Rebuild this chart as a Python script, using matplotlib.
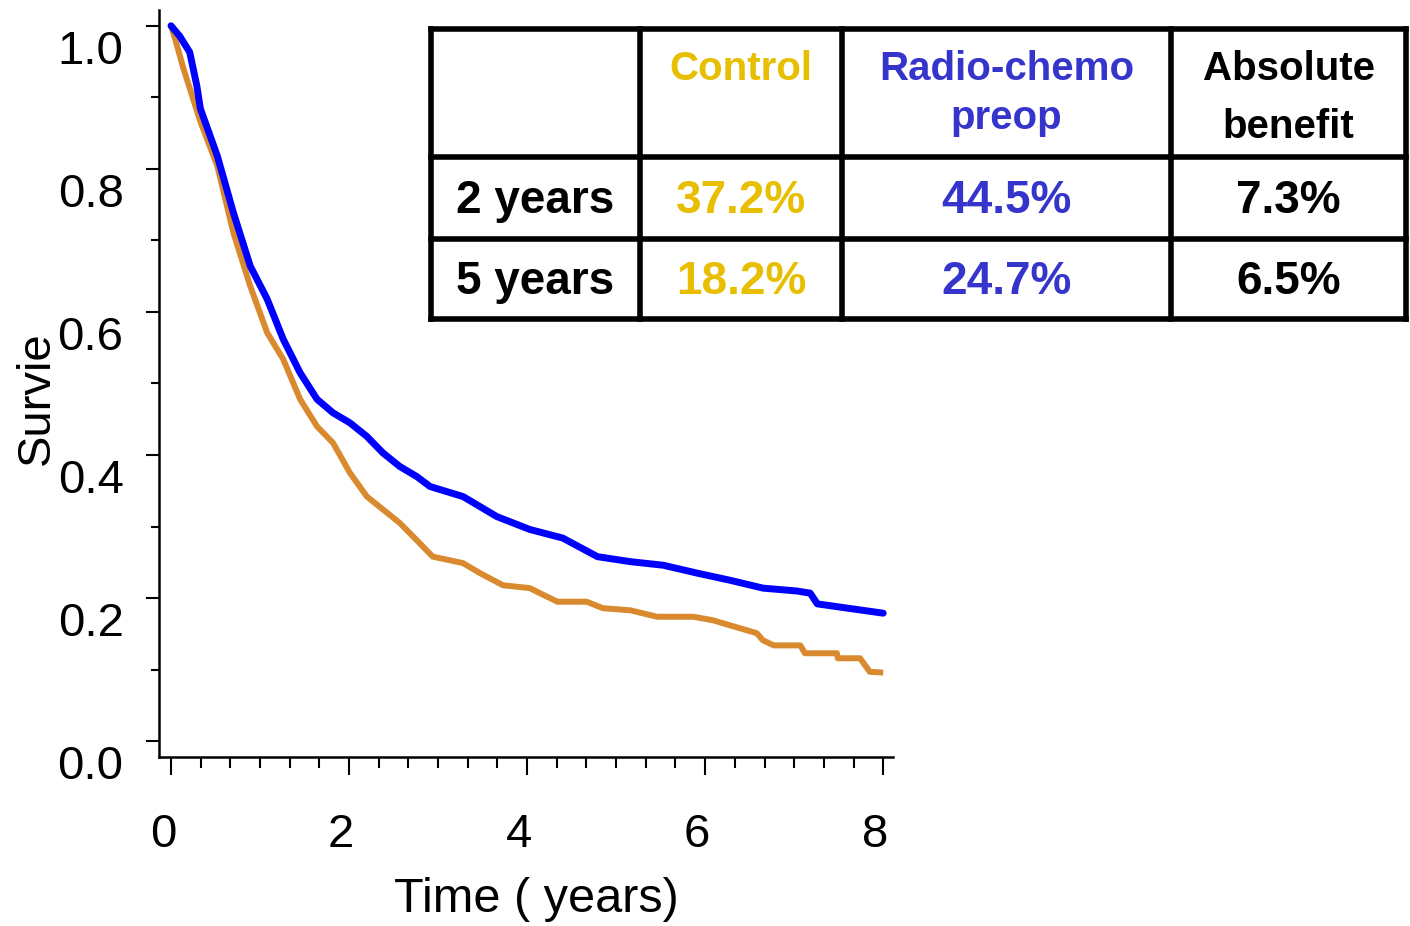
import numpy as np
import matplotlib.pyplot as plt
import matplotlib.transforms as mtrans
from matplotlib.ticker import MultipleLocator

plt.rcParams['font.family'] = ['Liberation Sans', 'DejaVu Sans']

# Survival curves
t_ctrl = [0.0, 0.05, 0.14, 0.33, 0.52, 0.70, 0.89, 1.08, 1.26, 1.45, 1.64, 1.82, 2.01,
          2.20, 2.57, 2.76, 2.94, 3.13, 3.28, 3.47, 3.73, 4.03, 4.34, 4.67, 4.85,
          5.16, 5.46, 5.87, 6.09, 6.28, 6.58, 6.65, 6.77, 7.07, 7.12, 7.48, 7.49,
          7.74, 7.85, 8.0]
s_ctrl = [1.0, 0.98, 0.94, 0.866, 0.804, 0.711, 0.636, 0.571, 0.534, 0.478, 0.44, 0.417, 0.375,
          0.342, 0.305, 0.281, 0.258, 0.253, 0.249, 0.235, 0.218, 0.214, 0.195, 0.195, 0.186,
          0.183, 0.174, 0.174, 0.169, 0.162, 0.151, 0.141, 0.134, 0.134, 0.123, 0.123, 0.116,
          0.116, 0.097, 0.096]

t_rc = [0.0, 0.10, 0.21, 0.29, 0.33, 0.52, 0.70, 0.89, 1.08, 1.26, 1.45, 1.64, 1.82, 2.01,
        2.20, 2.38, 2.57, 2.76, 2.91, 3.28, 3.66, 4.03, 4.40, 4.79, 5.16, 5.53,
        5.91, 6.28, 6.65, 7.03, 7.18, 7.26, 7.60, 8.0]
s_rc = [1.0, 0.985, 0.963, 0.916, 0.884, 0.818, 0.739, 0.664, 0.618, 0.562, 0.515, 0.478, 0.459, 0.445,
        0.426, 0.403, 0.384, 0.370, 0.356, 0.342, 0.314, 0.296, 0.284, 0.258, 0.251, 0.246,
        0.235, 0.225, 0.214, 0.210, 0.207, 0.192, 0.186, 0.179]

# Table
col_head = [['Control'], ['Radio-chemo', 'preop'], ['Absolute', 'benefit']]
row_head = ['2 years', '5 years']
val_ctrl = ['37.2%', '18.2%']
val_rc   = ['44.5%', '24.7%']
val_abs  = ['7.3%', '6.5%']

c_line_ctrl = '#D98A2E'
c_line_rc   = '#0000FF'
c_txt_ctrl  = '#E8BF00'
c_txt_rc    = '#3535CC'


fig = plt.figure(figsize=(14.1, 9.26), dpi=100)
W, H = 1410., 926.
ax = fig.add_axes([159/W, 1-757/H, (893-159)/W, (757-10)/H])

ax.plot(t_ctrl, s_ctrl, color=c_line_ctrl, lw=4.3, solid_capstyle='butt', zorder=3)
ax.plot(t_rc, s_rc, color=c_line_rc, lw=5.0, solid_capstyle='round', zorder=4)

ax.set_xlim(-0.135, 8.11)
ax.set_ylim(-0.022, 1.022)
ax.spines['top'].set_visible(False)
ax.spines['right'].set_visible(False)
ax.spines['left'].set_linewidth(1.8)
ax.spines['bottom'].set_linewidth(1.8)

ax.set_xticks([0, 2, 4, 6, 8])
ax.xaxis.set_minor_locator(MultipleLocator(1/3.))
ax.set_yticks([0.0, 0.2, 0.4, 0.6, 0.8, 1.0])
ax.set_yticklabels(['0.0', '0.2', '0.4', '0.6', '0.8', '1.0'])
ax.yaxis.set_minor_locator(MultipleLocator(0.1))

ax.tick_params(axis='x', which='major', length=13, width=1.5, pad=27, labelsize=34)
ax.tick_params(axis='x', which='minor', length=8, width=1.5)
ax.tick_params(axis='y', which='major', length=9.5, width=1.5, pad=16, labelsize=34)
ax.tick_params(axis='y', which='minor', length=5.5, width=1.5)

# labels sit slightly off their ticks in the original
xoff = mtrans.ScaledTranslation(-8/100., 0, fig.dpi_scale_trans)
for lab in ax.get_xticklabels():
    lab.set_transform(lab.get_transform() + xoff)
yoff = mtrans.ScaledTranslation(0, -21/100., fig.dpi_scale_trans)
for lab in ax.get_yticklabels():
    lab.set_transform(lab.get_transform() + yoff)

fig.text(536/W, 1-900/H, 'Time ( years)', fontsize=35, ha='center', va='center')
fig.text(37/W, 1-398/H, 'Survie', fontsize=34, ha='center', va='center', rotation=90)


# Table drawn in pixel coordinates
tab = fig.add_axes([0, 0, 1, 1])
tab.set_xlim(0, W)
tab.set_ylim(H, 0)
tab.axis('off')

xs = [431, 640, 842, 1171, 1406]
ys = [29, 157, 239, 319]
for x in xs:
    tab.plot([x, x], [ys[0], ys[-1]], color='k', lw=4, solid_capstyle='projecting')
for y in ys:
    tab.plot([xs[0], xs[-1]], [y, y], color='k', lw=4, solid_capstyle='projecting')

cx = [(xs[i] + xs[i+1])/2. for i in range(4)]
head_col = [c_txt_ctrl, c_txt_rc, 'k']
head_base = [[80], [80, 129], [80, 138]]
for i in range(3):
    for j, s in enumerate(col_head[i]):
        tab.text(cx[i+1], head_base[i][j], s, fontsize=29, fontweight='bold',
                 color=head_col[i], ha='center', va='baseline')

row_base = [213, 294]
for r in range(2):
    tab.text(cx[0], row_base[r], row_head[r], fontsize=33, fontweight='bold', color='k',
             ha='center', va='baseline')
    tab.text(cx[1], row_base[r], val_ctrl[r], fontsize=33, fontweight='bold', color=c_txt_ctrl,
             ha='center', va='baseline')
    tab.text(cx[2], row_base[r], val_rc[r], fontsize=33, fontweight='bold', color=c_txt_rc,
             ha='center', va='baseline')
    tab.text(cx[3], row_base[r], val_abs[r], fontsize=33, fontweight='bold', color='k',
             ha='center', va='baseline')

plt.savefig('out.png', dpi=100)
